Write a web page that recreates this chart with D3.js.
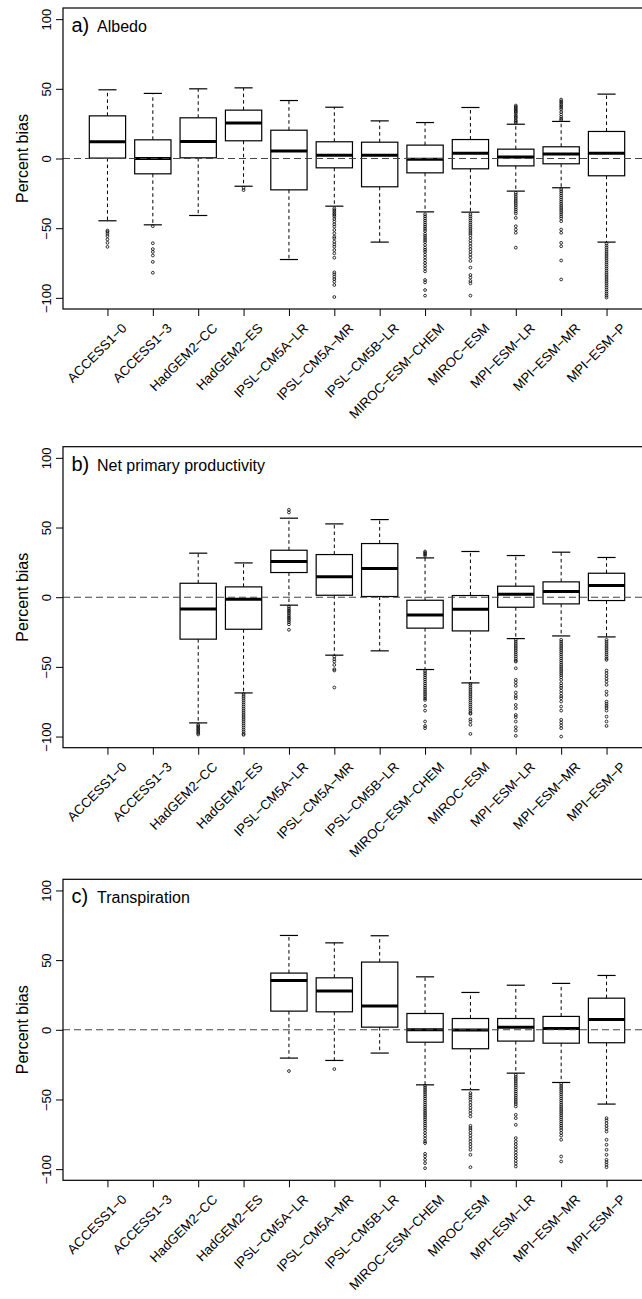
<!DOCTYPE html>
<html>
<head>
<meta charset="utf-8">
<script src="https://cdn.jsdelivr.net/npm/d3@7"></script>
<style>
    body { margin: 0; background: #fff; }
    svg { display: block; font-family: "Liberation Sans", Arial, Helvetica, sans-serif; }
</style>
</head>
<body>
<div id="chart"></div>
<script>

// models on the x axis
const models = ["ACCESS1-0", "ACCESS1-3", "HadGEM2-CC", "HadGEM2-ES", "IPSL-CM5A-LR", "IPSL-CM5A-MR",
    "IPSL-CM5B-LR", "MIROC-ESM-CHEM", "MIROC-ESM", "MPI-ESM-LR", "MPI-ESM-MR", "MPI-ESM-P"];

const yTicks = [-100, -50, 0, 50, 100];

// box stats: [lower whisker, Q1, median, Q3, upper whisker], null = model not available
const albedoStats = [
    [-44.7, 0.3, 12, 30.6, 49.3],
    [-47.6, -11, 0, 13.4, 46.7],
    [-40.9, 0.5, 12.2, 29.2, 50],
    [-19.9, 12.7, 25.4, 34.7, 50.7],
    [-72.5, -22.5, 5.3, 20.3, 41.6],
    [-34.2, -6.7, 2.4, 12, 36.8],
    [-60, -20.3, 2.4, 11.7, 27],
    [-38.3, -10.3, -0.5, 9.6, 25.8],
    [-38.5, -7.4, 3.8, 13.6, 36.6],
    [-23.4, -5.3, 1, 6.7, 24.6],
    [-21, -3.8, 3.3, 8.4, 26.6],
    [-60, -12.4, 3.8, 19.4, 46.2]
];
const albedoOutliers = [
    [-51.7, -52.6, -54, -55.7, -58, -60.5, -63.4],
    [-48.6, -60.8, -65, -67, -69.6, -74.2, -82],
    [],
    [-21, -22.7],
    [],
    [-35.8, -37, -38.2, -39.4, -40.5, -41.7, -43.4, -45.3, -47.2, -48.9, -51.3, -53.7, -56.1, -57.3, -59.7,
        -61.6, -63.3, -65.7, -68.1, -71.2, -81.7, -83.1, -84.8, -86.5, -88.4, -90.8, -99.4],
    [],
    [-40, -41.5, -43, -44.5, -46, -47.5, -49, -50.5, -52, -54, -55.5, -57, -58.5, -60, -62, -64, -65.5, -67,
        -69, -71, -73, -75, -77, -79, -81, -87.2, -88.9, -94.4, -98.4],
    [-40, -41.5, -43, -44.5, -46, -47.5, -49, -50.5, -52, -53.5, -55, -57, -59, -61, -63, -65, -67, -69, -71,
        -73.5, -78.3, -83.6, -85.5, -87.9, -89.6, -98.4],
    [38, 37.1, 36.1, 35.2, 34.2, 33.3, 32.3, 30.9, 29.9, 29, 27.5, 26.6, 25.6,
        -24.6, -26, -27.5, -29, -30.5, -32, -33.5, -35, -36.5, -38, -39.5, -42.6, -48.6, -51, -53.3, -64],
    [42.3, 41.1, 40, 38.8, 37.6, 36.4, 35.2, 33.3, 31.6, 29.9, 28.5, 27.5,
        -22, -23.5, -25, -26.5, -28, -29.5, -31, -32.5, -34, -35.5, -37, -38.5, -40, -41.5, -43, -45, -51,
        -53.3, -60.5, -63, -73.2, -86.8],
    [-61, -62.5, -64, -65.5, -67, -68.5, -70, -71.5, -73, -74.5, -76, -77.5, -79, -80.5, -82, -83.5, -85,
        -86.5, -88, -89.5, -91, -92.5, -94, -95.5, -97, -98.5, -99.8]
];

const nppStats = [
    null,
    null,
    [-90.2, -30.1, -8.4, 10, 31.6],
    [-68.7, -23, -1.4, 7.4, 24.6],
    [-5.7, 17.7, 25.6, 33.7, 56.7],
    [-41.6, 1.4, 14.6, 30.6, 52.6],
    [-38.5, 0.5, 20.6, 38.5, 55.7],
    [-51.9, -22.2, -12.7, -2.2, 28.2],
    [-61.5, -24.2, -8.6, 1.2, 32.8],
    [-29.7, -7.2, 2.2, 7.9, 29.9],
    [-27.8, -4.8, 4.1, 11, 32.3],
    [-28.5, -2.4, 8.4, 17.2, 28.5]
];
const nppOutliers = [
    [],
    [],
    [-91.5, -92.5, -93.5, -94.5, -95.5, -96.5, -97.5, -98.5],
    [-69.5, -71, -72.5, -74, -75.5, -77, -78.5, -80, -81.5, -83, -84.5, -86, -87.5, -89, -90.5, -92, -93.5,
        -95, -96.5, -98, -98.8],
    [62.7, 60.8, -6.7, -8, -9.3, -10.5, -11.7, -13, -14.3, -15.5, -16.7, -18, -19.5, -23.4],
    [-42.6, -44.5, -46.2, -48.6, -51.7, -52.6, -64.8],
    [],
    [32.8, 31.8, 30.8, 29.8, -53, -54.5, -56, -57.5, -59, -60.5, -62, -63.5, -65, -66.5, -68, -69.5, -71,
        -72.5, -73.7, -78, -81.4, -89.2, -92.4, -94],
    [-62.2, -63.5, -65, -66.5, -68, -69.5, -71, -72.5, -74, -75.5, -77, -78.5, -80, -81.5, -83, -83.7, -87.6,
        -89.2, -91.6, -98.1],
    [-30.6, -32, -33.5, -35, -36.5, -38, -39.5, -41, -42.5, -44, -45.5, -46.2, -51, -59.3, -61.3, -63.6,
        -68.4, -70.8, -72.5, -77.3, -79.7, -84.5, -86.1, -89.2, -93.3, -95.7, -99.5],
    [-30.6, -32, -33.5, -35, -36.5, -38, -39.5, -41, -42.5, -44, -45.5, -47, -48.5, -50, -51.5, -53, -54.5,
        -56, -57.5, -59.3, -61.7, -63.5, -65, -67, -69, -71, -72.5, -74.9, -78.5, -81.4, -88, -90, -92, -94, -100],
    [-30.6, -32, -33.5, -35, -36.5, -38, -39.5, -41, -42.5, -44, -45, -52.6, -54.5, -56.5, -58.5, -60.5,
        -62.9, -67.7, -70.1, -74.9, -76.5, -78, -79.5, -81.4, -85.7, -89.2, -92.4]
];

const transpStats = [
    null,
    null,
    null,
    null,
    [-20.3, 13.4, 35.4, 40.7, 67.7],
    [-22, 12.9, 27.8, 37.3, 62.4],
    [-16.7, 1.9, 17, 48.6, 67.5],
    [-39.5, -8.9, 0, 11.7, 38],
    [-43, -13.6, -0.2, 8.1, 26.8],
    [-31.1, -8.1, 1.9, 8.1, 32],
    [-37.8, -9.6, 1, 9.6, 33.3],
    [-53.3, -9.3, 7.4, 22.7, 39]
];
const transpOutliers = [
    [],
    [],
    [],
    [],
    [-29.6],
    [-28.2],
    [],
    [-40.2, -41.7, -43.2, -44.7, -46.2, -47.7, -49.2, -50.7, -52.2, -53.7, -55.2, -56.7, -58.2, -59.7, -61.2,
        -62.7, -64.2, -65.7, -67.2, -68.7, -70.2, -72, -74, -76, -78, -80, -81.3, -89, -90.9, -93.3, -95.7, -99.3],
    [-45.4, -47, -48.5, -50, -52, -54, -56, -58, -60, -62.2, -68.9, -70.5, -72, -74, -76, -78, -80, -82, -84,
        -86.1, -89.7, -98.6],
    [-32.3, -33.8, -35.3, -36.8, -38.3, -39.8, -41.3, -42.8, -44.3, -45.8, -47.3, -48.8, -50.3, -51.8, -53.3,
        -55, -61, -63.4, -68.2, -77.7, -80, -82, -84, -86, -88, -90, -92, -94, -96, -98.1],
    [-38.8, -40.3, -41.8, -43.3, -44.8, -46.3, -47.8, -49.3, -50.8, -52.3, -53.8, -55.3, -56.8, -58.3, -59.8,
        -61.3, -62.8, -64.3, -65.8, -67.3, -68.8, -70.3, -72, -74, -76, -78.9, -90.9, -94.5],
    [-63.4, -65, -67, -69, -71, -73, -78.9, -82.5, -86.1, -89.7, -93.3, -95, -96.8, -98.6]
];


class BoxPanel {

    constructor(svg, config) {
        this.svg = svg;
        this.config = config;
        this.initVis();
    }

    initVis() {
        let vis = this;

        vis.left = 63;
        vis.right = 651;   // the frame runs off the right edge of the picture
        vis.top = vis.config.top;
        vis.bottom = vis.config.top + 301;

        // R style: 4% padding around [0.5, n + 0.5] and [-100, 100]
        vis.x = d3.scaleLinear()
            .domain([0.02, models.length + 0.98])
            .range([vis.left, vis.right]);

        vis.y = d3.scaleLinear()
            .domain([-108, 108])
            .range([vis.bottom, vis.top]);

        vis.g = vis.svg.append("g");

        vis.boxWidth = (vis.x(1) - vis.x(0)) * 0.8;

        vis.updateVis();
    }

    updateVis() {
        let vis = this;
        let cfg = vis.config;

        let rows = models.map((m, i) => ({
            name: m,
            pos: i + 1,
            stats: cfg.stats[i],
            outliers: cfg.outliers[i]
        })).filter(d => d.stats !== null);

        let boxes = vis.g.selectAll(".box")
            .data(rows)
            .enter()
            .append("g")
            .attr("class", "box");

        // whiskers
        boxes.append("line")
            .attr("x1", d => vis.x(d.pos)).attr("x2", d => vis.x(d.pos))
            .attr("y1", d => vis.y(d.stats[3])).attr("y2", d => vis.y(d.stats[4]))
            .attr("stroke", "#000").attr("stroke-width", 1).attr("stroke-dasharray", "3.5,3");
        boxes.append("line")
            .attr("x1", d => vis.x(d.pos)).attr("x2", d => vis.x(d.pos))
            .attr("y1", d => vis.y(d.stats[1])).attr("y2", d => vis.y(d.stats[0]))
            .attr("stroke", "#000").attr("stroke-width", 1).attr("stroke-dasharray", "3.5,3");

        // staples
        [0, 4].forEach(k => {
            boxes.append("line")
                .attr("x1", d => vis.x(d.pos) - vis.boxWidth / 4)
                .attr("x2", d => vis.x(d.pos) + vis.boxWidth / 4)
                .attr("y1", d => vis.y(d.stats[k])).attr("y2", d => vis.y(d.stats[k]))
                .attr("stroke", "#000").attr("stroke-width", 1.2);
        });

        boxes.append("rect")
            .attr("x", d => vis.x(d.pos) - vis.boxWidth / 2)
            .attr("width", vis.boxWidth)
            .attr("y", d => vis.y(d.stats[3]))
            .attr("height", d => vis.y(d.stats[1]) - vis.y(d.stats[3]))
            .attr("fill", "#fff")
            .attr("stroke", "#000")
            .attr("stroke-width", 1.2);

        boxes.append("line")
            .attr("x1", d => vis.x(d.pos) - vis.boxWidth / 2)
            .attr("x2", d => vis.x(d.pos) + vis.boxWidth / 2)
            .attr("y1", d => vis.y(d.stats[2])).attr("y2", d => vis.y(d.stats[2]))
            .attr("stroke", "#000").attr("stroke-width", 3);

        boxes.selectAll(".outlier")
            .data(d => d.outliers.map(v => ({pos: d.pos, v: v})))
            .enter()
            .append("circle")
            .attr("class", "outlier")
            .attr("cx", d => vis.x(d.pos))
            .attr("cy", d => vis.y(d.v))
            .attr("r", 1.4)
            .attr("fill", "none")
            .attr("stroke", "#000")
            .attr("stroke-width", 0.8);

        // zero reference line
        vis.g.append("line")
            .attr("x1", vis.left).attr("x2", vis.right)
            .attr("y1", vis.y(0)).attr("y2", vis.y(0))
            .attr("stroke", "#444")
            .attr("stroke-width", 1.1)
            .attr("stroke-dasharray", "7,4");

        // frame
        vis.g.append("rect")
            .attr("x", vis.left).attr("y", vis.top)
            .attr("width", vis.right - vis.left).attr("height", vis.bottom - vis.top)
            .attr("fill", "none").attr("stroke", "#000").attr("stroke-width", 1.2);

        // y axis
        let yAxis = d3.axisLeft(vis.y)
            .tickValues(yTicks)
            .tickSize(7)
            .tickSizeOuter(0)
            .tickFormat(d => d < 0 ? "\u2212" + Math.abs(d) : d);

        let yg = vis.g.append("g")
            .attr("transform", `translate(${vis.left},0)`)
            .call(yAxis);
        yg.select(".domain").remove();
        yg.selectAll("line").attr("stroke", "#000");
        yg.selectAll("text")
            .attr("x", null).attr("dy", null)
            .attr("transform", "translate(-12,0) rotate(-90)")
            .attr("text-anchor", "middle")
            .attr("fill", "#000")
            .style("font-size", "13px")
            .style("font-family", null);

        // x axis: ticks only, labels rotated below
        let xAxis = d3.axisBottom(vis.x)
            .tickValues(models.map((m, i) => i + 1))
            .tickSize(7)
            .tickSizeOuter(0)
            .tickFormat("");

        let xg = vis.g.append("g")
            .attr("transform", `translate(0,${vis.bottom})`)
            .call(xAxis);
        xg.select(".domain").remove();
        xg.selectAll("line").attr("stroke", "#000");

        vis.g.selectAll(".xlabel")
            .data(models)
            .enter()
            .append("text")
            .attr("class", "xlabel")
            .attr("transform", (d, i) => `translate(${vis.x(i + 1) + 20},${vis.bottom + 20}) rotate(-45)`)
            .attr("text-anchor", "end")
            .style("font-size", "13.3px")
            .text(d => d.replace(/-/g, "\u2212"));

        // axis title
        vis.g.append("text")
            .attr("transform", `translate(28,${(vis.top + vis.bottom) / 2}) rotate(-90)`)
            .attr("text-anchor", "middle")
            .style("font-size", "16px")
            .text("Percent bias");

        // panel label
        vis.g.append("text")
            .attr("x", 71.5)
            .attr("y", vis.top + 24)
            .style("font-size", "20px")
            .text(cfg.letter);
        vis.g.append("text")
            .attr("x", 97)
            .attr("y", vis.top + 24)
            .style("font-size", "16px")
            .text(cfg.title);
    }
}

let svg = d3.select("#chart").append("svg")
    .attr("width", 642)
    .attr("height", 1299);

svg.append("rect").attr("width", 642).attr("height", 1299).attr("fill", "#fff");

new BoxPanel(svg, {letter: "a)", title: "Albedo", stats: albedoStats, outliers: albedoOutliers, top: 8});
new BoxPanel(svg, {letter: "b)", title: "Net primary productivity", stats: nppStats, outliers: nppOutliers, top: 446.7});
new BoxPanel(svg, {letter: "c)", title: "Transpiration", stats: transpStats, outliers: transpOutliers, top: 879.3});

</script>
</body>
</html>
